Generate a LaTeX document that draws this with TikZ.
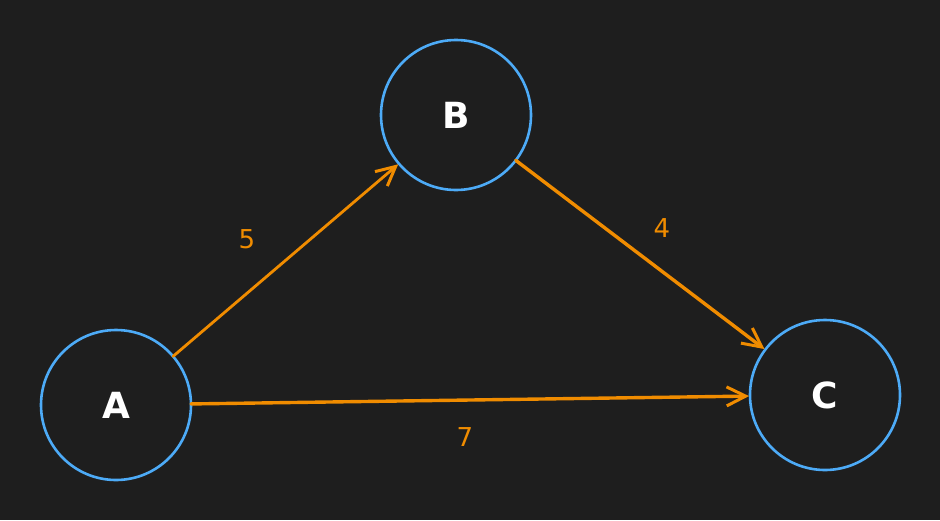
\documentclass[tikz,border=0pt]{standalone}
\usepackage{fontspec}
\setmainfont{DejaVu Sans}
\usetikzlibrary{arrows.meta}
\definecolor{bgc}{HTML}{1E1E1E}
\definecolor{ringc}{HTML}{4DABF7}
\definecolor{edgec}{HTML}{F08C00}
\tikzset{
  vertex/.style={circle, draw=ringc, line width=2.6pt, fill=bgc, minimum size=150pt, inner sep=0pt, outer sep=0pt,
    text=white, font=\fontsize{36}{36}\selectfont\bfseries},
  link/.style={draw=edgec, line width=3.4pt, line cap=round, -{Straight Barb[length=19pt,width=19pt,line width=3pt]}, shorten >=1pt},
  weight/.style={text=edgec, font=\fontsize{26}{26}\selectfont, inner sep=0pt}
}
\begin{document}
\begin{tikzpicture}[x=1pt,y=-1pt]
\fill[bgc] (0,0) rectangle (940,520);
\useasboundingbox (0,0) rectangle (940,520);
\node[vertex] (A) at (116,405) {A};
\node[vertex] (B) at (456,115) {B};
\node[vertex] (C) at (825,395) {C};
\draw[link, line width=2.8pt] (A) -- (B);
\draw[link] (B) -- (C);
\draw[link] (A) -- (C);
\node[weight] (w5) at (247,239) {5};
\node[weight] (w4) at (662,228) {4};
\node[weight] (w7) at (465,437) {7};
\end{tikzpicture}
\end{document}
